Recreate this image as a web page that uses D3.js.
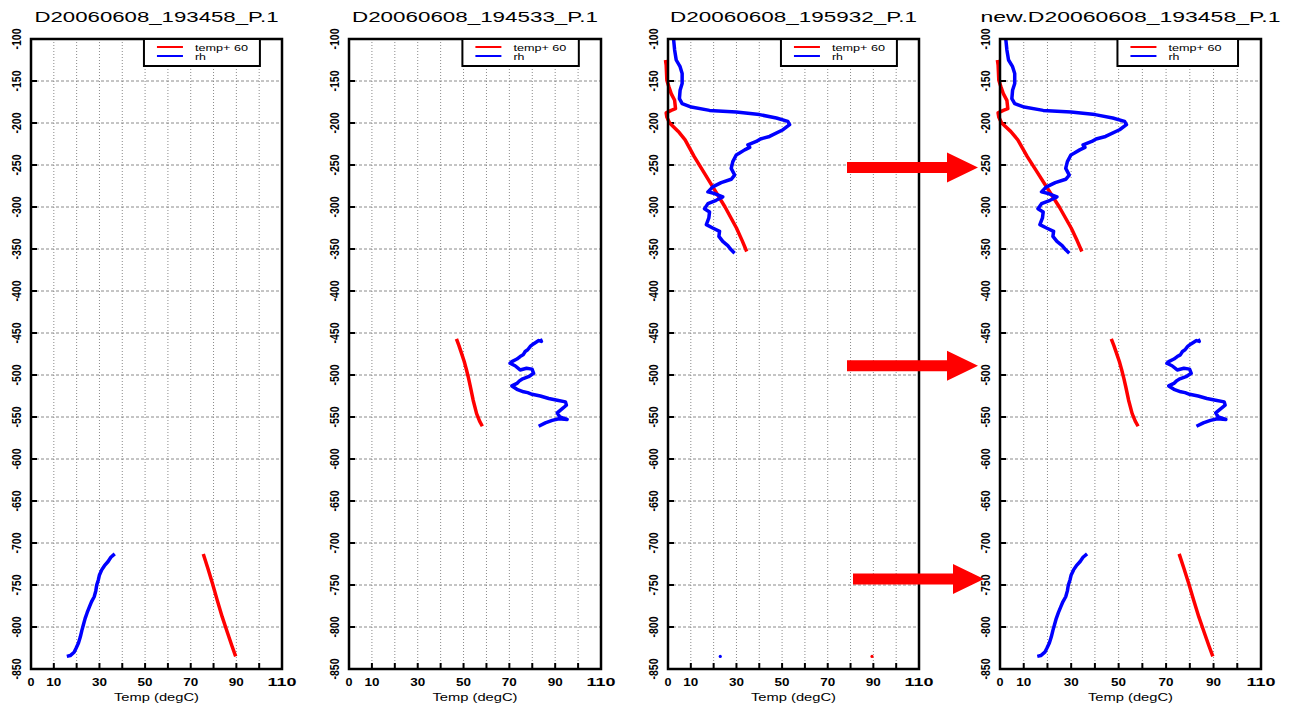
<!DOCTYPE html>
<html><head><meta charset="utf-8">
<script src="https://cdn.jsdelivr.net/npm/d3@7"></script>
<style>html,body{margin:0;padding:0;background:#fff}svg{display:block}text{font-family:"Liberation Sans",Arial,sans-serif}</style>
</head><body><svg id="c" width="1289" height="707"></svg>
<script>
// ---- data (x: value, y: depth) ----
const titles = ["D20060608_193458_P.1","D20060608_194533_P.1","D20060608_195932_P.1","new.D20060608_193458_P.1"];
const xTickLabels = [0,10,30,50,70,90,110];
const yTicks = [-100,-150,-200,-250,-300,-350,-400,-450,-500,-550,-600,-650,-700,-750,-800,-850];
const legendLabels = ["temp+ 60","rh"];
// profile 1 (193458)
const p1Rh = [[36.7,-713],[35.0,-717],[33.8,-722],[32.2,-727],[31.0,-732],[30.0,-738],[29.5,-744],[28.8,-750],[28.4,-757],[27.7,-764],[26.5,-770],[25.6,-776],[24.6,-783],[23.7,-790],[23.0,-797],[22.3,-804],[21.6,-812],[20.8,-819],[19.8,-825],[18.9,-830],[17.2,-834],[15.7,-835]];
const p1Temp = [[75.5,-713],[77.5,-730],[79.5,-748],[81.6,-768],[83.8,-788],[86.0,-806],[88.0,-822],[89.7,-835]];
// profile 2 (194533)
const p2Temp = [[46.9,-457],[48.0,-465],[49.1,-474],[50.3,-484],[51.3,-494],[52.2,-504],[53.0,-514],[54.2,-530],[55.7,-546],[57.0,-555],[58.2,-561]];
const p2Rh = [[83.5,-457],[84.0,-460],[82.8,-459],[80.5,-463],[79.1,-466],[78.0,-470],[76.9,-472],[76.0,-476],[74.7,-478],[73.3,-481],[71.1,-484],[70.3,-486],[72.5,-489],[74.7,-494],[77.5,-492],[79.9,-493],[80.6,-498],[78.4,-502],[75.5,-505],[74.4,-507],[73.3,-510],[71.1,-513],[73.3,-517],[76.2,-520],[78.0,-521],[79.9,-523],[83.5,-525],[87.2,-528],[90.9,-530],[94.5,-532],[94.9,-536],[93.1,-540],[90.9,-545],[92.0,-550],[95.2,-553],[91.6,-552],[88.7,-554],[85.7,-557],[82.8,-561]];
// profile 3 (195932)
const p3Rh = [[2.4,-99],[2.9,-113],[3.6,-125],[5.3,-133],[6.2,-141],[6.2,-153],[5.3,-161],[5.0,-171],[6.2,-177],[10.2,-181],[18.2,-185],[29.9,-187],[40.1,-190],[47.5,-194],[52.5,-198],[53.3,-202],[50.4,-208],[44.5,-216],[40.5,-219],[38.7,-222],[35.0,-226],[35.8,-229],[33.6,-232],[31.2,-236],[29.9,-238],[28.4,-246],[27.7,-254],[29.2,-262],[27.7,-267],[23.3,-271],[19.6,-276],[17.5,-282],[20.4,-284],[24.0,-288],[21.1,-292],[17.5,-296],[16.0,-302],[18.2,-306],[17.9,-313],[16.8,-321],[19.6,-325],[22.6,-329],[22.3,-335],[24.0,-341],[26.2,-346],[27.7,-351],[29.2,-355]];
const p3Temp = [[-1.1,-125],[-0.8,-131],[-0.5,-149],[0.4,-157],[1.4,-165],[2.9,-173],[3.3,-183],[1.4,-185],[-0.8,-188],[-0.5,-193],[0.7,-200],[4.5,-210],[7.5,-220],[11.5,-240],[16.0,-260],[20.5,-280],[25.0,-300],[30.0,-325],[32.5,-340],[34.5,-353]];
const p3RhDots = [[22.9,-835]];
const p3TempDots = [[89.4,-835]];
// arrows (depth of arrow in panel coordinates)
const arrowDepths = [-253,-489,-743];
const arrowStarts = [847,847,853];

const panels = [
  {left:31, right:282, title:titles[0], tw:244, sets:[[p1Temp,p1Rh]], dots:[]},
  {left:349, right:601, title:titles[1], tw:246, sets:[[p2Temp,p2Rh]], dots:[]},
  {left:668, right:919, title:titles[2], tw:247, sets:[[p3Temp,p3Rh]], dots:[[p3TempDots,p3RhDots]]},
  {left:1000, right:1261, title:titles[3], tw:300, sets:[[p1Temp,p1Rh],[p2Temp,p2Rh],[p3Temp,p3Rh]], dots:[]}
];
const TOP = 39, BOTTOM = 669;
const RED = "#ff0000", BLUE = "#0000ff";
const svg = d3.select("#c");
const y = d3.scaleLinear().domain([-100,-850]).range([TOP,BOTTOM]);

panels.forEach(p => {
  const x = d3.scaleLinear().domain([0,110]).range([p.left,p.right]);
  const g = svg.append("g");
  // grid
  g.selectAll(".vg").data(d3.range(10,110,10)).join("line")
    .attr("x1",d=>x(d)).attr("x2",d=>x(d)).attr("y1",TOP).attr("y2",BOTTOM)
    .attr("stroke","#8a8a8a").attr("stroke-width",1).attr("stroke-dasharray","1,2");
  g.selectAll(".hg").data(yTicks.slice(1,-1)).join("line")
    .attr("x1",p.left).attr("x2",p.right).attr("y1",d=>y(d)).attr("y2",d=>y(d))
    .attr("stroke","#8a8a8a").attr("stroke-width",1).attr("stroke-dasharray","3,2");
  // ticks
  g.selectAll(".yt").data(yTicks).join("line")
    .attr("x1",p.left).attr("x2",p.left+6).attr("y1",d=>y(d)).attr("y2",d=>y(d))
    .attr("stroke","#000").attr("stroke-width",2);
  g.selectAll(".xt").data(d3.range(10,110,10)).join("line")
    .attr("x1",d=>x(d)).attr("x2",d=>x(d)).attr("y1",BOTTOM).attr("y2",BOTTOM-6)
    .attr("stroke","#000").attr("stroke-width",2);
  // data lines
  const line = d3.line().x(d=>x(d[0])).y(d=>y(d[1]));
  p.sets.forEach(([t,r]) => {
    g.append("path").attr("d",line(t)).attr("fill","none").attr("stroke",RED).attr("stroke-width",3.5).attr("stroke-linejoin","round");
    g.append("path").attr("d",line(r)).attr("fill","none").attr("stroke",BLUE).attr("stroke-width",3.5).attr("stroke-linejoin","round");
  });
  p.dots.forEach(([t,r]) => {
    g.selectAll(null).data(t).join("circle").attr("cx",d=>x(d[0])).attr("cy",d=>y(d[1])).attr("r",1.6).attr("fill",RED);
    g.selectAll(null).data(r).join("circle").attr("cx",d=>x(d[0])).attr("cy",d=>y(d[1])).attr("r",1.6).attr("fill",BLUE);
  });
  // frame
  g.append("rect").attr("x",p.left).attr("y",TOP).attr("width",p.right-p.left).attr("height",BOTTOM-TOP)
    .attr("fill","none").attr("stroke","#000").attr("stroke-width",2.5);
  // legend
  const w = p.right-p.left;
  const lx0 = p.left+0.45*w, lx1 = p.left+0.912*w;
  g.append("rect").attr("x",lx0).attr("y",TOP).attr("width",lx1-lx0).attr("height",27)
    .attr("fill","#fff").attr("stroke","#000").attr("stroke-width",2);
  [RED,BLUE].forEach((c,i)=>{
    g.append("line").attr("x1",lx0+13).attr("x2",lx0+39).attr("y1",TOP+8+i*9).attr("y2",TOP+8+i*9)
      .attr("stroke",c).attr("stroke-width",2);
    g.append("text").attr("x",lx0+51).attr("y",TOP+12+i*8.5).attr("font-size",9)
      .attr("textLength",i===0?53:11).attr("lengthAdjust","spacingAndGlyphs").text(legendLabels[i]);
  });
  // title
  g.append("text").attr("x",(p.left+p.right)/2).attr("y",22).attr("text-anchor","middle")
    .attr("font-size",14).attr("textLength",p.tw).attr("lengthAdjust","spacingAndGlyphs").text(p.title);
  // y labels
  g.selectAll(".yl").data(yTicks).join("text")
    .attr("transform",d=>`translate(${p.left-10.5},${y(d)}) rotate(-90)`)
    .attr("text-anchor","middle").attr("font-size",12.5).attr("font-weight","bold")
    .attr("textLength",21).attr("lengthAdjust","spacingAndGlyphs").text(d=>d);
  // x labels
  g.selectAll(".xl").data(xTickLabels).join("text")
    .attr("x",d=>x(d)).attr("y",686).attr("text-anchor","middle")
    .attr("font-size",10.5).attr("font-weight","bold")
    .attr("textLength",d=>String(d).length===1?7:(String(d).length===2?15:29)).attr("lengthAdjust","spacingAndGlyphs")
    .text(d=>d);
  g.append("text").attr("x",(p.left+p.right)/2).attr("y",701).attr("text-anchor","middle")
    .attr("font-size",10.5).attr("textLength",85).attr("lengthAdjust","spacingAndGlyphs").text("Temp (degC)");
});

// arrows
arrowDepths.forEach((dv,i)=>{
  const cy = y(dv), x0 = arrowStarts[i];
  const pts = [[x0,cy-5.5],[x0+100,cy-5.5],[x0+100,cy-15],[x0+131,cy],[x0+100,cy+15],[x0+100,cy+5.5],[x0,cy+5.5]];
  svg.append("polygon").attr("points",pts.map(q=>q.join(",")).join(" ")).attr("fill",RED);
});
</script></body></html>
